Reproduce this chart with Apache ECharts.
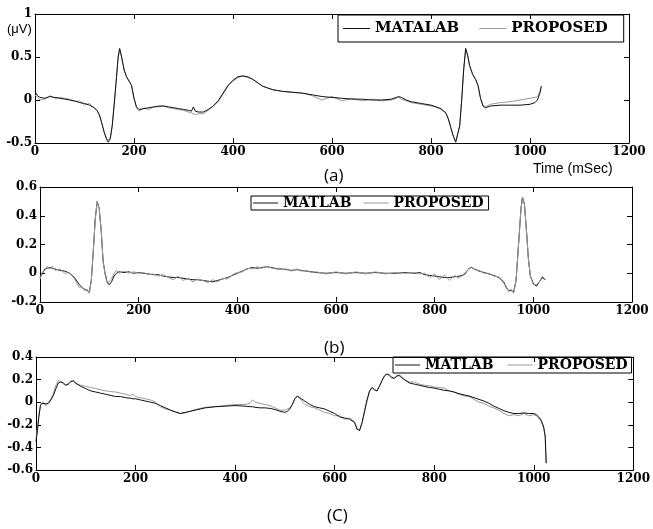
<!DOCTYPE html>
<html>
<head>
<meta charset="utf-8">
<script src="https://cdn.jsdelivr.net/npm/echarts@6/dist/echarts.min.js"></script>
<style>
  html, body { margin: 0; padding: 0; background: #fff; }
  #chart { width: 653px; height: 529px; }
</style>
</head>
<body>
<div id="chart"></div>
<script>
// (a) time axis in mSec and the two traces
const timeA = [
  0, 5, 10, 20, 30, 40, 50, 60, 70, 80,
  90, 100, 110, 120, 125, 130, 135, 140, 145, 148,
  152, 156, 160, 164, 168, 171, 175, 180, 185, 190,
  195, 200, 205, 210, 220, 230, 240, 250, 260, 270,
  280, 290, 300, 310, 316, 320, 324, 330, 340, 350,
  360, 370, 380, 390, 400, 410, 420, 430, 440, 450,
  460, 470, 480, 490, 500, 520, 540, 560, 580, 600,
  620, 640, 660, 680, 700, 720, 730, 735, 740, 750,
  760, 780, 800, 810, 820, 830, 835, 840, 845, 850,
  854, 858, 862, 866, 870, 874, 878, 884, 890, 895,
  900, 905, 910, 920, 940, 960, 980, 1000, 1010, 1015,
  1020, 1023
];
const matlabA = [
  0.10, 0.05, 0.03, 0.02, 0.04, 0.03, 0.02, 0.01, 0.00, -0.01,
  -0.03, -0.04, -0.06, -0.09, -0.12, -0.17, -0.27, -0.38, -0.46, -0.49,
  -0.45, -0.30, -0.05, 0.22, 0.50, 0.60, 0.50, 0.35, 0.27, 0.22,
  0.17, 0.02, -0.08, -0.11, -0.10, -0.09, -0.08, -0.07, -0.07, -0.08,
  -0.09, -0.10, -0.11, -0.12, -0.13, -0.08, -0.13, -0.14, -0.14, -0.11,
  -0.07, -0.01, 0.08, 0.17, 0.23, 0.27, 0.28, 0.27, 0.24, 0.20,
  0.16, 0.14, 0.12, 0.11, 0.10, 0.09, 0.08, 0.06, 0.04, 0.03,
  0.02, 0.01, 0.01, 0.00, 0.00, 0.01, 0.03, 0.04, 0.03, 0.00,
  -0.02, -0.04, -0.06, -0.08, -0.10, -0.15, -0.22, -0.32, -0.42, -0.49,
  -0.47, -0.30, 0.00, 0.35, 0.60, 0.52, 0.40, 0.30, 0.24, 0.17,
  0.02, -0.07, -0.09, -0.07, -0.06, -0.06, -0.06, -0.05, -0.03, 0.00,
  0.08, 0.16
];
const proposedA = [
  0.06, 0.03, 0.00, 0.01, 0.05, 0.02, 0.03, 0.02, 0.01, -0.02,
  -0.01, -0.06, -0.04, -0.10, -0.12, -0.18, -0.27, -0.38, -0.46, -0.48,
  -0.45, -0.30, -0.05, 0.22, 0.50, 0.59, 0.50, 0.35, 0.27, 0.22,
  0.17, 0.02, -0.09, -0.13, -0.09, -0.11, -0.08, -0.08, -0.07, -0.09,
  -0.10, -0.11, -0.12, -0.14, -0.15, -0.14, -0.17, -0.16, -0.16, -0.12,
  -0.07, -0.02, 0.07, 0.16, 0.22, 0.26, 0.28, 0.26, 0.24, 0.20,
  0.16, 0.14, 0.12, 0.11, 0.10, 0.09, 0.08, 0.05, 0.00, 0.04,
  -0.01, 0.02, -0.01, 0.01, -0.01, 0.00, 0.02, 0.03, 0.01, -0.01,
  -0.03, -0.05, -0.07, -0.08, -0.11, -0.15, -0.22, -0.32, -0.42, -0.48,
  -0.47, -0.30, 0.00, 0.35, 0.59, 0.52, 0.40, 0.30, 0.24, 0.17,
  0.02, -0.06, -0.08, -0.05, -0.03, -0.02, 0.00, 0.02, 0.03, 0.04,
  0.10, 0.16
];

// (b)
const timeB = [
  0, 5, 10, 15, 20, 25, 30, 40, 50, 60,
  70, 80, 85, 90, 95, 100, 104, 108, 112, 116,
  118, 120, 124, 128, 132, 136, 140, 145, 150, 155,
  160, 170, 180, 190, 200, 210, 220, 230, 240, 250,
  260, 270, 280, 290, 300, 310, 320, 330, 340, 350,
  360, 370, 380, 390, 400, 410, 420, 430, 440, 450,
  460, 470, 480, 490, 500, 510, 520, 530, 540, 550,
  560, 580, 600, 620, 640, 660, 680, 700, 720, 740,
  760, 770, 780, 790, 800, 810, 820, 830, 840, 850,
  860, 870, 875, 880, 890, 900, 910, 920, 930, 940,
  945, 950, 955, 960, 965, 970, 975, 978, 982, 986,
  990, 994, 1000, 1006, 1012, 1018, 1022, 1025
];
const matlabB = [
  -0.03, 0.00, 0.03, 0.035, 0.04, 0.035, 0.03, 0.02, 0.015, 0.00,
  -0.03, -0.08, -0.10, -0.11, -0.12, -0.13, -0.05, 0.15, 0.38, 0.50,
  0.51, 0.45, 0.30, 0.08, 0.00, -0.06, -0.08, -0.06, -0.02, 0.00,
  0.01, 0.005, 0.01, 0.00, 0.005, 0.00, -0.005, -0.01, -0.01, -0.02,
  -0.025, -0.03, -0.03, -0.035, -0.04, -0.045, -0.045, -0.05, -0.055, -0.06,
  -0.05, -0.04, -0.03, -0.015, 0.00, 0.015, 0.03, 0.04, 0.035, 0.04,
  0.045, 0.04, 0.03, 0.03, 0.025, 0.02, 0.025, 0.02, 0.015, 0.01,
  0.005, 0.00, 0.005, 0.00, 0.005, 0.00, 0.005, 0.00, 0.00, 0.005,
  0.00, 0.005, -0.01, -0.015, -0.02, -0.025, -0.03, -0.03, -0.025, -0.02,
  -0.01, 0.035, 0.04, 0.03, 0.015, 0.005, -0.005, -0.015, -0.03, -0.06,
  -0.10, -0.12, -0.12, -0.13, -0.05, 0.20, 0.45, 0.53, 0.48, 0.30,
  0.10, -0.02, -0.07, -0.09, -0.06, -0.03, -0.02, -0.045
];
const proposedB = [
  -0.04, 0.01, 0.02, 0.05, 0.03, 0.05, 0.02, 0.03, 0.00, 0.005,
  -0.04, -0.10, -0.09, -0.12, -0.11, -0.14, -0.05, 0.15, 0.38, 0.50,
  0.51, 0.45, 0.30, 0.08, -0.01, -0.07, -0.07, -0.04, 0.00, 0.02,
  0.00, 0.015, 0.00, 0.01, 0.00, 0.005, -0.01, -0.005, -0.02, -0.01,
  -0.03, -0.045, -0.02, -0.05, -0.035, -0.06, -0.04, -0.05, -0.065, -0.045,
  -0.06, -0.035, -0.04, -0.01, 0.005, 0.01, 0.035, 0.03, 0.045, 0.035,
  0.05, 0.035, 0.035, 0.025, 0.03, 0.015, 0.03, 0.015, 0.02, 0.005,
  0.01, -0.005, 0.01, -0.005, 0.01, -0.005, 0.01, -0.005, 0.005, 0.00,
  0.005, -0.005, 0.00, -0.03, -0.005, -0.045, -0.01, -0.05, -0.015, -0.035,
  0.00, 0.03, 0.045, 0.025, 0.02, 0.00, 0.00, -0.02, -0.025, -0.07,
  -0.09, -0.13, -0.11, -0.14, -0.05, 0.20, 0.45, 0.53, 0.48, 0.30,
  0.10, -0.02, -0.08, -0.08, -0.06, -0.02, -0.01, -0.045
];

// (c)
const timeC = [
  0, 3, 6, 9, 12, 15, 20, 25, 30, 35,
  40, 45, 50, 55, 60, 65, 70, 75, 80, 90,
  100, 110, 120, 130, 140, 150, 160, 170, 180, 190,
  195, 200, 210, 220, 230, 240, 250, 260, 270, 280,
  290, 300, 310, 320, 340, 360, 380, 400, 420, 430,
  435, 440, 450, 460, 470, 480, 490, 500, 505, 510,
  515, 520, 525, 530, 540, 550, 560, 570, 580, 590,
  600, 610, 620, 630, 640, 645, 650, 655, 660, 665,
  670, 675, 680, 685, 690, 695, 700, 705, 710, 715,
  720, 725, 730, 740, 750, 760, 770, 780, 790, 800,
  810, 820, 830, 840, 850, 860, 870, 880, 890, 900,
  910, 920, 930, 940, 950, 960, 970, 980, 990, 1000,
  1005, 1010, 1015, 1020, 1023, 1025
];
const matlabC = [
  -0.35, -0.25, -0.12, -0.03, -0.01, -0.01, -0.015, -0.01, 0.02, 0.06,
  0.12, 0.17, 0.18, 0.17, 0.15, 0.16, 0.18, 0.19, 0.17, 0.14,
  0.12, 0.10, 0.09, 0.08, 0.07, 0.06, 0.05, 0.05, 0.04, 0.035,
  0.03, 0.03, 0.02, 0.01, 0.00, -0.01, -0.03, -0.05, -0.07, -0.085,
  -0.10, -0.09, -0.08, -0.07, -0.05, -0.04, -0.035, -0.03, -0.035, -0.04,
  -0.04, -0.045, -0.05, -0.05, -0.055, -0.065, -0.08, -0.09, -0.08, -0.06,
  -0.02, 0.03, 0.055, 0.04, 0.01, -0.02, -0.04, -0.05, -0.06, -0.08,
  -0.10, -0.13, -0.14, -0.15, -0.18, -0.24, -0.25, -0.18, -0.08, 0.02,
  0.10, 0.13, 0.11, 0.10, 0.14, 0.19, 0.23, 0.25, 0.24, 0.22,
  0.21, 0.23, 0.24, 0.20, 0.17, 0.16, 0.15, 0.14, 0.13, 0.125,
  0.115, 0.105, 0.10, 0.09, 0.075, 0.065, 0.055, 0.04, 0.025, 0.01,
  -0.01, -0.035, -0.055, -0.075, -0.09, -0.10, -0.10, -0.095, -0.10, -0.10,
  -0.11, -0.13, -0.16, -0.22, -0.30, -0.54
];
const proposedC = [
  -0.33, -0.22, -0.10, -0.02, -0.02, 0.00, -0.03, 0.00, 0.03, 0.08,
  0.15, 0.19, 0.185, 0.16, 0.15, 0.17, 0.19, 0.185, 0.16, 0.15,
  0.14, 0.13, 0.12, 0.11, 0.10, 0.095, 0.09, 0.08, 0.07, 0.06,
  0.07, 0.05, 0.04, 0.03, 0.02, 0.00, -0.04, -0.06, -0.07, -0.09,
  -0.10, -0.095, -0.08, -0.065, -0.045, -0.04, -0.03, -0.02, -0.02, -0.01,
  0.02, 0.00, -0.01, -0.02, -0.03, -0.05, -0.07, -0.07, -0.06, -0.05,
  -0.02, 0.03, 0.05, 0.03, -0.02, -0.04, -0.05, -0.07, -0.09, -0.10,
  -0.12, -0.12, -0.15, -0.14, -0.17, -0.23, -0.25, -0.19, -0.09, 0.01,
  0.09, 0.13, 0.11, 0.10, 0.15, 0.19, 0.24, 0.25, 0.23, 0.21,
  0.22, 0.24, 0.23, 0.20, 0.18, 0.18, 0.16, 0.15, 0.145, 0.135,
  0.13, 0.125, 0.10, 0.09, 0.07, 0.055, 0.05, 0.025, 0.00, -0.01,
  -0.035, -0.05, -0.07, -0.10, -0.12, -0.11, -0.12, -0.10, -0.12, -0.11,
  -0.12, -0.14, -0.17, -0.23, -0.31, -0.54
];

const xTicks = { min: 0, max: 1200, interval: 200 };
const yRanges = [
  { min: -0.5, max: 1, interval: 0.5 },
  { min: -0.2, max: 0.6, interval: 0.2 },
  { min: -0.6, max: 0.4, interval: 0.2 }
];

const tickFont = { fontFamily: 'DejaVu Serif', fontWeight: 'bold', fontSize: 12, color: '#000' };
const legendFont = { fontFamily: 'DejaVu Serif', fontWeight: 'bold', fontSize: 14, color: '#000' };

const chart = echarts.init(document.getElementById('chart'));

function pairs(times, values) {
  return times.map((t, i) => [t, values[i]]);
}

// each panel is boxed: bottom/left axes carry labels, top/right only inward ticks
const xAxes = [];
const yAxes = [];
for (let g = 0; g < 3; g++) {
  ['bottom', 'top'].forEach((pos) => {
    xAxes.push({
      gridIndex: g,
      type: 'value',
      position: pos,
      min: xTicks.min,
      max: xTicks.max,
      interval: xTicks.interval,
      splitLine: { show: false },
      axisLine: { show: true, onZero: false, lineStyle: { color: '#000', width: 1 } },
      axisTick: { show: true, inside: true, length: 5, lineStyle: { color: '#000' } },
      axisLabel: pos === 'bottom'
        ? Object.assign({ margin: 3, formatter: (v) => String(v) }, tickFont)
        : { show: false }
    });
  });
  ['left', 'right'].forEach((pos) => {
    yAxes.push({
      gridIndex: g,
      type: 'value',
      position: pos,
      min: yRanges[g].min,
      max: yRanges[g].max,
      interval: yRanges[g].interval,
      splitLine: { show: false },
      axisLine: { show: true, onZero: false, lineStyle: { color: '#000', width: 1 } },
      axisTick: { show: true, inside: true, length: 5, lineStyle: { color: '#000' } },
      axisLabel: pos === 'left'
        ? Object.assign({ margin: 3, formatter: (v) => String(Math.round(v * 10) / 10) }, tickFont)
        : { show: false }
    });
  });
}

function trace(name, g, data, color, z) {
  return {
    name: name,
    type: 'line',
    xAxisIndex: g * 2,
    yAxisIndex: g * 2,
    data: data,
    symbol: 'none',
    z: z,
    lineStyle: { color: color, width: 1 },
    itemStyle: { color: color }
  };
}

const black = '#111';
const gray = '#9a9a9a';

const option = {
  animation: false,
  backgroundColor: '#fff',
  grid: [
    { left: 35, top: 14, width: 594, height: 129 },
    { left: 40, top: 187, width: 592, height: 115 },
    { left: 36, top: 357, width: 602, height: 113 }
  ],
  xAxis: xAxes,
  yAxis: yAxes,
  legend: [
    {
      data: ['MATALAB', 'PROPOSED'], left: 338, top: 15, orient: 'horizontal',
      icon: 'rect', itemWidth: 27, itemHeight: 1, itemGap: 20, selectedMode: false,
      padding: [6, 16, 6, 5], borderColor: '#000', borderWidth: 1,
      textStyle: Object.assign({}, legendFont, { fontSize: 15 })
    },
    {
      data: ['MATLAB', 'PROPOSED'], left: 251, top: 196, orient: 'horizontal',
      icon: 'rect', itemWidth: 25, itemHeight: 1, itemGap: 12, selectedMode: false,
      padding: [0, 5, 0, 2], borderColor: '#000', borderWidth: 1,
      textStyle: Object.assign({ lineHeight: 13 }, legendFont)
    },
    {
      data: ['MATLAB', 'PROPOSED'], left: 393, top: 357, orient: 'horizontal',
      icon: 'rect', itemWidth: 25, itemHeight: 1, itemGap: 14, selectedMode: false,
      padding: [1, 4, 1, 2], borderColor: '#000', borderWidth: 1,
      textStyle: Object.assign({ lineHeight: 13 }, legendFont)
    }
  ],
  graphic: [
    { type: 'text', left: 7, top: 23, style: { text: '(μV)', font: '13px "Liberation Sans"', fill: '#000' } },
    { type: 'text', left: 533, top: 162, style: { text: 'Time (mSec)', font: '14px "Liberation Sans"', fill: '#000' } },
    { type: 'text', left: 324, top: 168, style: { text: '(a)', font: '17px "Open Sans"', fill: '#000' } },
    { type: 'text', left: 324, top: 340, style: { text: '(b)', font: '17px "Open Sans"', fill: '#000' } },
    { type: 'text', left: 327, top: 508, style: { text: '(C)', font: '17px "Open Sans"', fill: '#000' } }
  ],
  series: [
    trace('PROPOSED', 0, pairs(timeA, proposedA), gray, 2),
    trace('MATALAB', 0, pairs(timeA, matlabA), black, 3),
    trace('MATLAB', 1, pairs(timeB, matlabB), black, 2),
    trace('PROPOSED', 1, pairs(timeB, proposedB), gray, 3),
    trace('PROPOSED', 2, pairs(timeC, proposedC), gray, 2),
    trace('MATLAB', 2, pairs(timeC, matlabC), black, 3)
  ]
};

chart.setOption(option);
</script>
</body>
</html>
